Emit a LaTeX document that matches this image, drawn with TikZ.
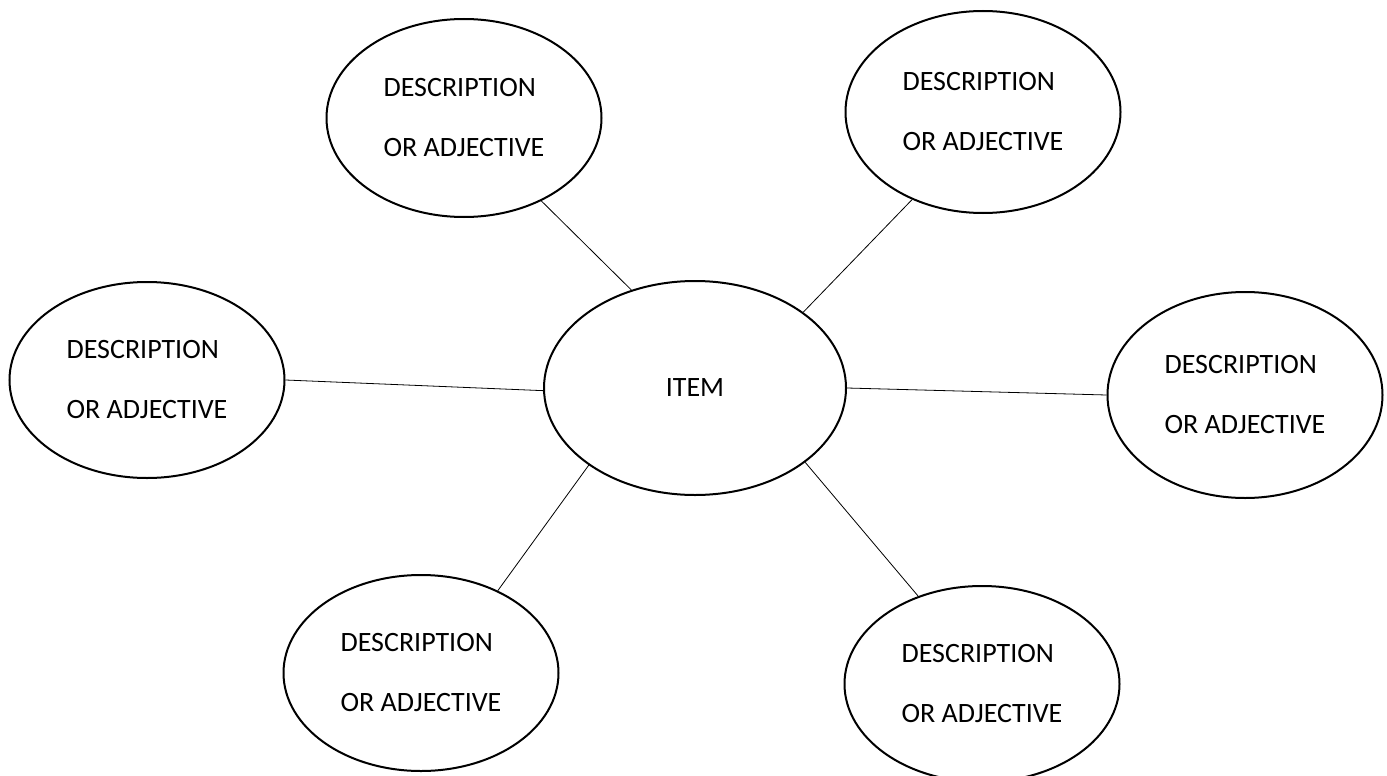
\documentclass[tikz,border=0pt]{standalone}
\usepackage{fontspec}
\setmainfont{Carlito}
\usetikzlibrary{shapes.geometric}

\tikzset{
  bubble/.style={ellipse, draw, line width=2pt, minimum width=275pt, minimum height=198pt, align=left, inner sep=0pt},
  link/.style={line width=0.8pt},
}

\begin{document}
\begin{tikzpicture}[x=1pt,y=1pt,yscale=-1,font=\fontsize{28}{60}\selectfont]
  \useasboundingbox (0,0) rectangle (1387,776);
  \node[bubble, minimum width=302pt, minimum height=214pt] (item) at (695,388) {ITEM};
  \node[bubble] (dtl) at (464,118) {DESCRIPTION\\OR ADJECTIVE};
  \node[bubble, minimum height=202pt] (dtr) at (983,112) {DESCRIPTION\\OR ADJECTIVE};
  \node[bubble, minimum height=196pt] (dl) at (147,380) {DESCRIPTION\\OR ADJECTIVE};
  \node[bubble, minimum height=206pt] (dr) at (1245,395) {DESCRIPTION\\OR ADJECTIVE};
  \node[bubble, minimum height=196pt] (dbl) at (421,673) {DESCRIPTION\\OR ADJECTIVE};
  \node[bubble, minimum height=196pt] (dbr) at (982,684) {DESCRIPTION\\OR ADJECTIVE};
  \draw[link] (item.123.6) -- (dtl.-47.6);
  \draw[link] (item.35.1) -- (dtr.-129.9);
  \draw[link] (item.181) -- (dl.0.5);
  \draw[link] (item.-0.4) -- (dr.180);
  \draw[link] (item.216.5) -- (dbl.47.6);
  \draw[link] (item.-34.5) -- (dbr.126.3);
\end{tikzpicture}
\end{document}
